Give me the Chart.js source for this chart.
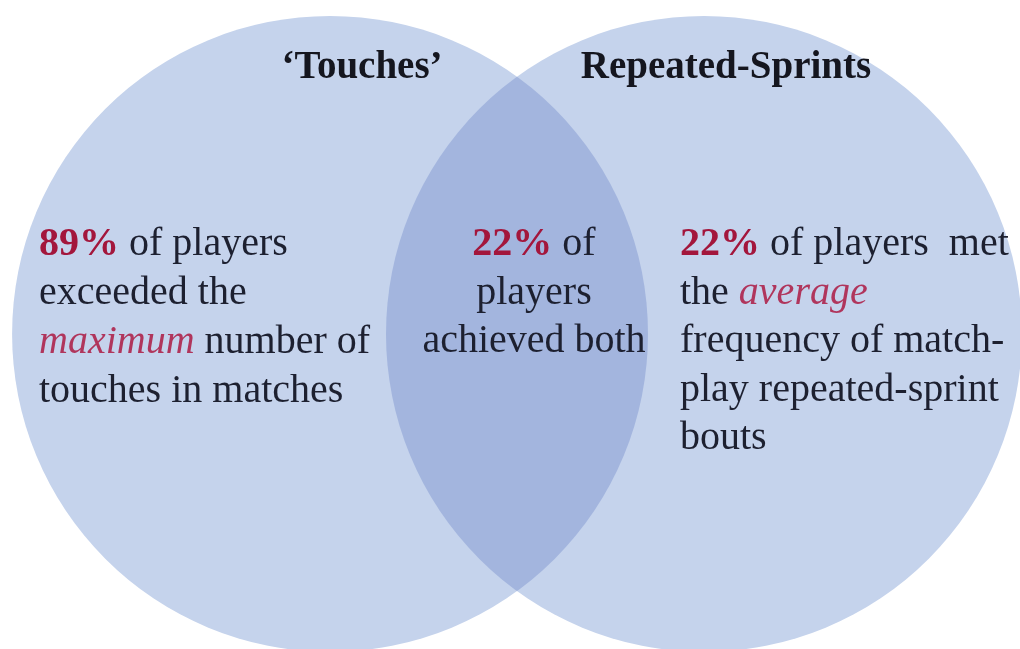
<!DOCTYPE html>
<html>
<head>
<meta charset="utf-8">
<script src="https://cdn.jsdelivr.net/npm/chart.js@4"></script>
<style>
  html, body { margin: 0; padding: 0; background: #ffffff; }
  #wrap { width: 1020px; height: 649px; position: relative; }
</style>
</head>
<body>
<div id="wrap"><canvas id="vennChart"></canvas></div>
<script>
// Venn sets, in units of one circle radius
const setNames = ['\u2018Touches\u2019', 'Repeated-Sprints'];
const centerX = [0, 1.176];
const centerY = [0, 0];
const radius = [1, 1];
// shares: touches only, both, repeated-sprints
const shares = ['89%', '22%', '22%'];

// axis window (radius units)
const xMin = -1.038, xMax = 2.170;
const yMin = -0.991, yMax = 1.050;

// text runs: p = bold red percentage, e = italic red, n = normal
const leftLines = [
  [[shares[0], 'p'], [' of players', 'n']],
  [['exceeded the', 'n']],
  [['maximum', 'e'], [' number of', 'n']],
  [['touches in matches', 'n']]
];
const middleLines = [
  [[shares[1], 'p'], [' of', 'n']],
  [['players', 'n']],
  [['achieved both', 'n']]
];
const rightLines = [
  [[shares[2], 'p'], [' of players  met', 'n']],
  [['the ', 'n'], ['average', 'e']],
  [['frequency of match-', 'n']],
  [['play repeated-sprint', 'n']],
  [['bouts', 'n']]
];

const lightBlue = '#c5d3ec';
const overlapBlue = '#a3b5de';
const textDark = '#1d2030';
const pctRed = '#a3163c';
const emRed = '#b0355c';
const serif = '"Liberation Serif", "Times New Roman", serif';

function runFont(kind) {
  if (kind === 'p') return 'bold 40px ' + serif;
  if (kind === 'e') return 'italic 40px ' + serif;
  return '40px ' + serif;
}

function drawLines(ctx, lines, x, y, lh, align) {
  lines.forEach((runs, i) => {
    let w = 0;
    runs.forEach(r => { ctx.font = runFont(r[1]); w += ctx.measureText(r[0]).width; });
    let cx = align === 'center' ? x - w / 2 : x;
    runs.forEach(r => {
      ctx.font = runFont(r[1]);
      ctx.fillStyle = r[1] === 'p' ? pctRed : (r[1] === 'e' ? emRed : textDark);
      ctx.fillText(r[0], cx, y + i * lh);
      cx += ctx.measureText(r[0]).width;
    });
  });
}

const vennPlugin = {
  id: 'venn',
  afterDatasetsDraw(chart) {
    const ctx = chart.ctx;
    const pts = chart.getDatasetMeta(0).data;
    const a = pts[0], b = pts[1];
    // intersection lens
    ctx.save();
    ctx.beginPath();
    ctx.arc(a.x, a.y, a.options.radius, 0, Math.PI * 2);
    ctx.clip();
    ctx.beginPath();
    ctx.arc(b.x, b.y, b.options.radius, 0, Math.PI * 2);
    ctx.fillStyle = overlapBlue;
    ctx.fill();
    ctx.restore();

    ctx.save();
    ctx.textBaseline = 'alphabetic';
    ctx.font = 'bold 39px ' + serif;
    ctx.fillStyle = '#15161f';
    ctx.textAlign = 'center';
    ctx.fillText(setNames[0], 362, 78);
    ctx.fillText(setNames[1], 726, 78);
    ctx.textAlign = 'left';
    drawLines(ctx, leftLines, 39, 255, 49, 'left');
    drawLines(ctx, middleLines, 534, 255, 48.5, 'center');
    drawLines(ctx, rightLines, 680, 255, 48.5, 'left');
    ctx.restore();
  }
};

function pxRadius(c) {
  return radius[c.dataIndex] * c.chart.width / (xMax - xMin);
}

new Chart(document.getElementById('vennChart'), {
  type: 'bubble',
  data: {
    labels: setNames,
    datasets: [{
      data: centerX.map((x, i) => ({ x: x, y: centerY[i] })),
      backgroundColor: lightBlue,
      borderWidth: 0,
      radius: pxRadius,
      clip: false
    }]
  },
  options: {
    responsive: true,
    maintainAspectRatio: false,
    animation: false,
    events: [],
    layout: { padding: 0, autoPadding: false },
    scales: {
      x: { type: 'linear', display: false, min: xMin, max: xMax },
      y: { type: 'linear', display: false, min: yMin, max: yMax }
    },
    plugins: { legend: { display: false }, tooltip: { enabled: false } }
  },
  plugins: [vennPlugin]
});
</script>
</body>
</html>
